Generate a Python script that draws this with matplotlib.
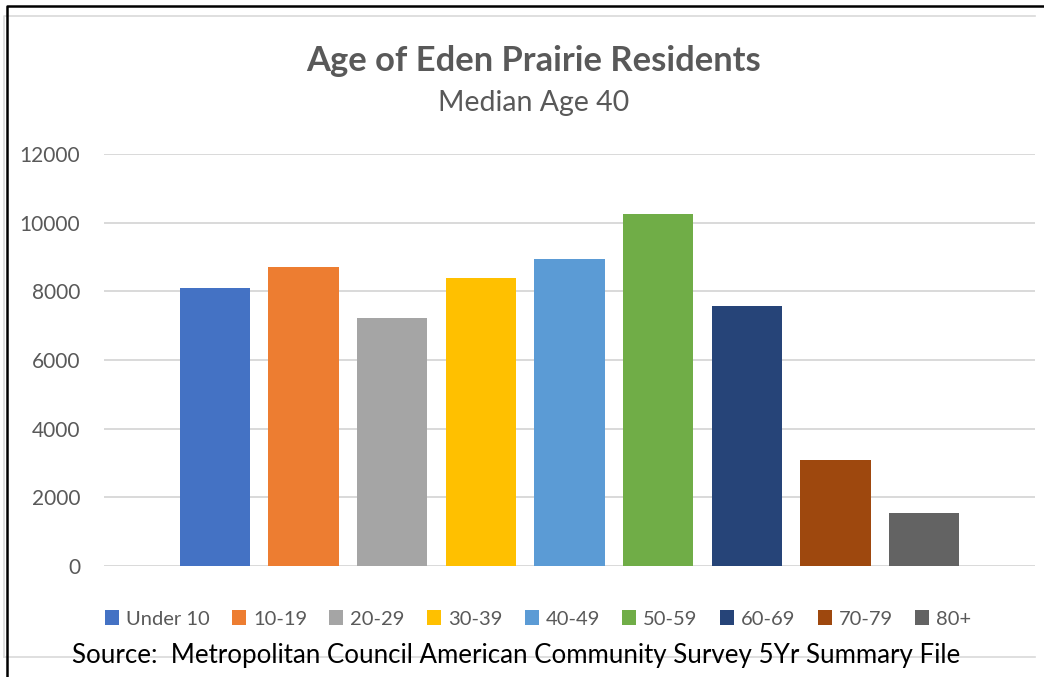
import matplotlib
matplotlib.use("Agg")
import matplotlib.pyplot as plt
from matplotlib.patches import Patch
from matplotlib.lines import Line2D

# population by age group
age_groups = ["Under 10", "10-19", "20-29", "30-39", "40-49",
              "50-59", "60-69", "70-79", "80+"]
residents = [8100, 8710, 7220, 8390, 8950, 10250, 7570, 3090, 1550]
bar_colors = ["#4472C4", "#ED7D31", "#A5A5A5", "#FFC000", "#5B9BD5",
              "#70AD47", "#264478", "#9E480E", "#636363"]
y_ticks = [0, 2000, 4000, 6000, 8000, 10000, 12000]

title = "Age of Eden Prairie Residents"
subtitle = "Median Age 40"
source = "Source:  Metropolitan Council American Community Survey 5Yr Summary File"

plt.rcParams["font.family"] = ["Lato", "DejaVu Sans"]
TXT = "#595959"
W, H = 1044, 677

fig = plt.figure(figsize=(W / 100, H / 100), dpi=100)
ax = fig.add_axes([104 / W, 1 - 566 / H, (1035 - 104) / W, (566 - 154) / H])

x = list(range(len(age_groups)))
ax.bar(x, residents, width=0.79, color=bar_colors, zorder=3)

ax.set_xlim(-1.25, len(age_groups) - 1 + 1.25)
ax.set_ylim(0, 12000)
ax.set_yticks(y_ticks)
ax.set_yticklabels([str(v) for v in y_ticks], fontsize=15, color=TXT)
ax.set_xticks([])
ax.tick_params(axis="y", length=0, pad=17)
ax.yaxis.grid(True, color="#D9D9D9", linewidth=1.4, zorder=0)
for s in ax.spines.values():
    s.set_visible(False)

# chart title block
fig.text(534 / W, 1 - 61 / H, title, ha="center", va="center",
         fontsize=24.8, fontweight="bold", color=TXT)
fig.text(534 / W, 1 - 103 / H, subtitle, ha="center", va="center",
         fontsize=20.5, color=TXT)

# legend row under the plot
handles = [Patch(facecolor=c, edgecolor="none") for c in bar_colors]
fig.legend(handles, age_groups, loc="center", bbox_to_anchor=(538 / W, 1 - 619 / H),
           ncol=len(age_groups), frameon=False, fontsize=14.5, labelcolor=TXT,
           handlelength=0.7, handleheight=0.7, handletextpad=0.35,
           columnspacing=1.1, borderpad=0)

fig.text(516 / W, 1 - 655 / H, source, ha="center", va="center",
         fontsize=18.6, color="black")

# thin grey frame of the chart area
def fig_line(xs, ys, color, lw):
    fig.add_artist(Line2D([v / W for v in xs], [1 - v / H for v in ys],
                          transform=fig.transFigure, color=color, linewidth=lw))

fig_line([4, 4, 1035], [657, 16, 16], "#D9D9D9", 1.2)
fig_line([4, 1035], [657, 657], "#D9D9D9", 1.2)
# black outer border (top and left)
fig_line([7, 7, W], [H, 6, 6], "black", 1.8)

fig.savefig("out.png", dpi=100, facecolor="white")
